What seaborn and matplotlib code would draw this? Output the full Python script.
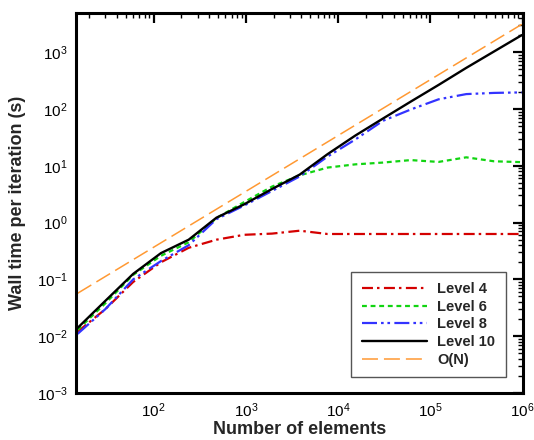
import matplotlib
matplotlib.use("Agg")
import matplotlib.pyplot as plt
import pandas as pd
import seaborn as sns
from matplotlib.ticker import (FixedLocator, LogLocator, LogFormatterMathtext,
                               NullFormatter)

# Mesh sizes (number of elements) and wall time per iteration for each level
elements = [15, 30, 60, 120, 240, 480, 960, 1920, 3840, 7680, 15360, 30720,
            61440, 122880, 245760, 491520, 983040]
level4 = [0.012, 0.030, 0.090, 0.20, 0.36, 0.50, 0.61, 0.64, 0.72, 0.63, 0.63,
          0.63, 0.63, 0.63, 0.63, 0.63, 0.63]
level6 = [0.013, 0.038, 0.12, 0.26, 0.45, 1.2, 2.3, 4.3, 6.8, 9.3, 10.6, 11.4,
          12.6, 11.7, 14.1, 12.0, 11.6]
level8 = [0.011, 0.030, 0.10, 0.21, 0.40, 1.15, 2.0, 3.6, 6.5, 14.5, 29.0, 62.0,
          98.0, 148.0, 183.0, 192.0, 196.0]
level10 = [0.014, 0.042, 0.125, 0.29, 0.50, 1.22, 2.1, 3.9, 7.0, 16.0, 34.0, 68.0,
           135.0, 265.0, 530.0, 1030.0, 2000.0]

# Linear-scaling reference line, given by its two end points
reference_elements = [15, 983040]
reference_time = [0.057, 3100.0]

# Decade ticks on both axes
x_ticks = [1e2, 1e3, 1e4, 1e5, 1e6]
y_ticks = [1e-3, 1e-2, 1e-1, 1e0, 1e1, 1e2, 1e3]

series_names = ["Level 4", "Level 6", "Level 8", "Level 10"]
series_values = [level4, level6, level8, level10]

frames = [pd.DataFrame({"elements": elements, "time": vals, "series": name})
          for name, vals in zip(series_names, series_values)]
frames.append(pd.DataFrame({"elements": reference_elements,
                            "time": reference_time, "series": "O(N)"}))
df = pd.concat(frames, ignore_index=True)

sns.set_style("white")
plt.rcParams["font.family"] = ["Liberation Sans", "DejaVu Sans"]
plt.rcParams["mathtext.fontset"] = "custom"
plt.rcParams["mathtext.rm"] = "Liberation Sans"
plt.rcParams["mathtext.it"] = "Liberation Sans:italic"
plt.rcParams["mathtext.bf"] = "Liberation Sans:bold"
plt.rcParams["mathtext.default"] = "regular"
plt.rcParams["lines.scale_dashes"] = False

styles = {
    "Level 4": dict(color="#d40000", lw=1.6, ls=(0, (7.9, 2.9, 1.8, 3.2))),
    "Level 6": dict(color="#11d411", lw=1.6, ls=(0, (3.5, 2.7))),
    "Level 8": dict(color="#3333ff", lw=1.6, ls=(0, (10.8, 2.9, 1.9, 2.7, 1.9, 3.1))),
    "Level 10": dict(color="black", lw=1.7, ls="-"),
    "O(N)": dict(color="#ff9933", lw=1.1, ls=(0, (11.5, 4.3))),
}

fig = plt.figure(figsize=(5.34, 4.40), dpi=100)
ax = fig.add_axes([76 / 534, 47 / 440, 446.5 / 534, 379.5 / 440])

for name in series_names + ["O(N)"]:
    st = styles[name]
    sns.lineplot(data=df[df["series"] == name], x="elements", y="time", ax=ax,
                 color=st["color"], linewidth=st["lw"], linestyle=st["ls"],
                 label=name, estimator=None, sort=False)

ax.set_xscale("log")
ax.set_yscale("log")
ax.set_xlim(14.4, 1e6)
ax.set_ylim(1e-3, 4800)

ax.xaxis.set_major_locator(FixedLocator(x_ticks))
ax.yaxis.set_major_locator(FixedLocator(y_ticks))
for axis in (ax.xaxis, ax.yaxis):
    axis.set_minor_locator(LogLocator(base=10, subs=range(2, 10), numticks=20))
    axis.set_major_formatter(LogFormatterMathtext())
    axis.set_minor_formatter(NullFormatter())

ax.tick_params(which="both", direction="in", top=True, right=True,
               labelsize=11, colors="black")
ax.tick_params(which="major", length=7, width=1.6, pad=6)
ax.tick_params(which="minor", length=3.5, width=1.0)
for sp in ax.spines.values():
    sp.set_linewidth(2.2)
    sp.set_color("black")

ax.set_xlabel("Number of elements", fontsize=13, fontweight="bold", labelpad=0.5)
ax.set_ylabel("Wall time per iteration (s)", fontsize=13, fontweight="bold", labelpad=8)

leg = ax.legend(loc="lower right", bbox_to_anchor=(0.963, 0.0414), borderaxespad=0,
                fancybox=False, framealpha=1, edgecolor="#555555",
                prop={"weight": "bold", "size": 10.5},
                handlelength=4.45, handletextpad=0.75, labelspacing=0.25,
                borderpad=0.72)
leg.get_frame().set_linewidth(1.0)

fig.savefig("out.png", dpi=100)
